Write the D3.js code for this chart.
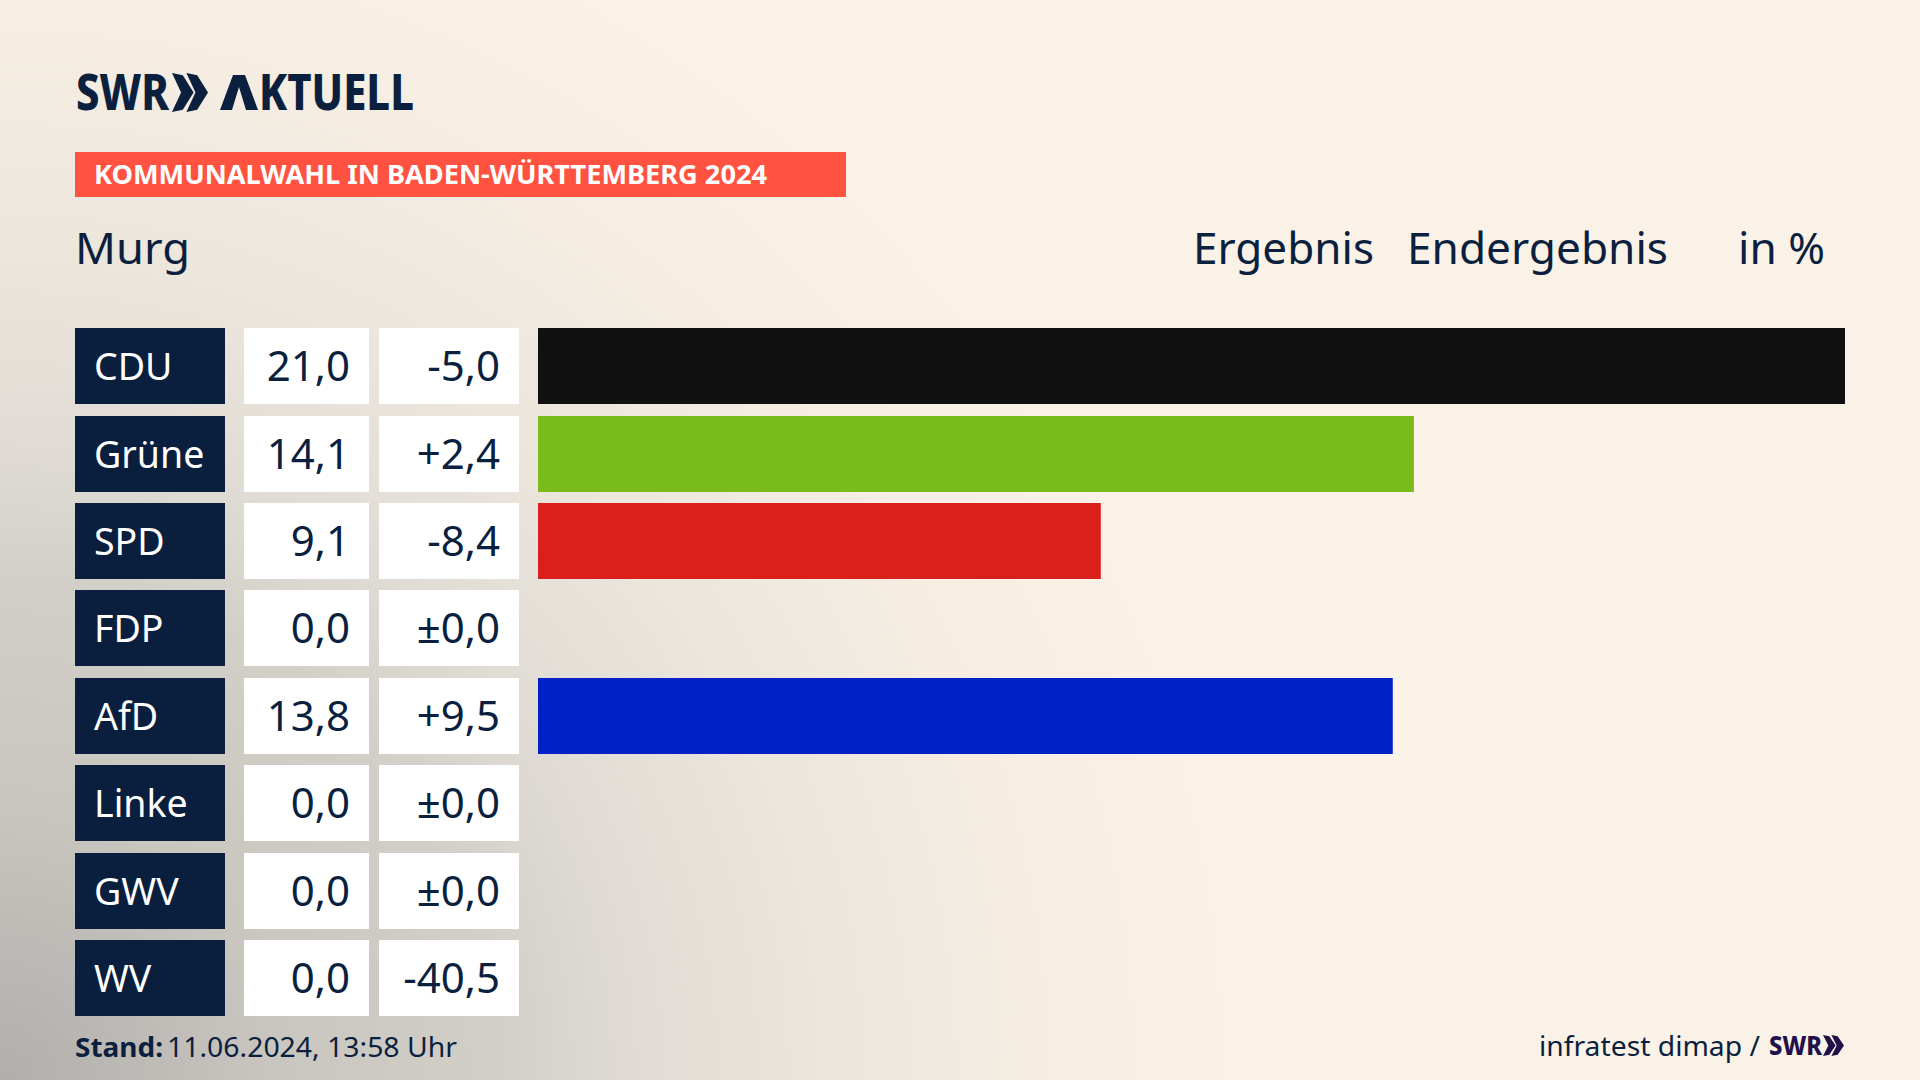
<!DOCTYPE html>
<html>
<head>
<meta charset="utf-8">
<script src="https://cdn.jsdelivr.net/npm/d3@7"></script>
<style>
  html, body { margin: 0; padding: 0; background: #fbf2e7; overflow: hidden; }
  svg { display: block; }
  text { font-family: "Noto Sans", sans-serif; fill: #0b1f3f; }
</style>
</head>
<body>
<svg width="1920" height="1080"></svg>
<script>
const parties = ["CDU", "Grüne", "SPD", "FDP", "AfD", "Linke", "GWV", "WV"]
// second decimal, the labels show one decimal
const results = [21.04, 14.1, 9.06, 0.0, 13.76, 0.0, 0.0, 0.0]
const changes = [-5.0, 2.4, -8.4, 0.0, 9.5, 0.0, 0.0, -40.5]
const barColors = ["#111111", "#79bb1a", "#d9201c", "#f0e0d0", "#0020c8", "#c0237f", "#888888", "#888888"]

const svg = d3.select("svg")
const navy = "#0b1f3f"

const locale = d3.formatLocale({ decimal: ",", thousands: ".", grouping: [3], currency: ["", ""], minus: "-" })
const fmt = locale.format(".1f")
const fmtChange = v => v === 0 ? "±0,0" : (v > 0 ? "+" : "") + fmt(v)

// background: cream with grey corner bottom left
const defs = svg.append("defs")
const grad = defs.append("radialGradient")
  .attr("id", "corner")
  .attr("gradientUnits", "userSpaceOnUse")
  .attr("cx", 0).attr("cy", 1080).attr("r", 1250)
grad.selectAll("stop")
  .data([[0, "#b0afad"], [0.22, "#c9c5bf"], [0.4, "#d2cfc9"], [0.5, "#dfdbd4"], [0.65, "#ebe5dc"], [0.84, "#f6eee3"], [1, "#fbf2e7"]])
  .join("stop")
    .attr("offset", d => d[0])
    .attr("stop-color", d => d[1])

svg.append("rect").attr("width", 1920).attr("height", 1080).attr("fill", "url(#corner)")

// chevrons of the SWR logo
function chevrons(g, x, y, w, h, fill) {
  const cw = w * 0.6
  ;[0, w - cw].forEach(dx => {
    g.append("polygon")
      .attr("fill", fill)
      .attr("points", [
        [x + dx, y], [x + dx + cw * 0.5, y + h * 0.06], [x + dx + cw, y + h / 2],
        [x + dx + cw * 0.5, y + h * 0.94], [x + dx, y + h], [x + dx + cw * 0.42, y + h / 2]
      ].join(" "))
  })
}

// logo
const logo = svg.append("g")
logo.append("text")
  .attr("x", 76).attr("y", 110)
  .attr("font-size", 49).attr("font-weight", 800)
  .attr("textLength", 93).attr("lengthAdjust", "spacingAndGlyphs")
  .text("SWR")
chevrons(logo, 172, 73, 36, 39, navy)
// the A of the logo has no crossbar: the letter stays as text, its shape is drawn
const aktuell = logo.append("text")
  .attr("y", 110)
  .attr("font-size", 49).attr("font-weight", 800)
aktuell.append("tspan")
  .attr("x", 220)
  .style("fill", "none")
  .text("A")
aktuell.append("tspan")
  .attr("x", 259)
  .attr("textLength", 155).attr("lengthAdjust", "spacingAndGlyphs")
  .text("KTUELL")
logo.append("polygon")
  .attr("fill", navy)
  .attr("points", "220,110 233,75 245,75 258,110 246,110 239,87 232,110")

// title band
svg.append("rect")
  .attr("x", 75).attr("y", 152).attr("width", 771).attr("height", 45)
  .attr("fill", "#ff5240")
svg.append("text")
  .attr("x", 94).attr("y", 184)
  .attr("font-size", 27).attr("font-weight", 700)
  .attr("textLength", 673).attr("lengthAdjust", "spacingAndGlyphs")
  .style("fill", "#fff")
  .text("KOMMUNALWAHL IN BADEN-WÜRTTEMBERG 2024")

// headings
const headings = [["Murg", 75, 115], ["Ergebnis", 1193, 181], ["Endergebnis", 1407, 261], ["in %", 1738, 87]]
svg.selectAll("text.head")
  .data(headings)
  .join("text")
    .attr("class", "head")
    .attr("x", d => d[1]).attr("y", 264)
    .attr("font-size", 44)
    .attr("textLength", d => d[2]).attr("lengthAdjust", "spacingAndGlyphs")
    .text(d => d[0])

// scales
const x = d3.scaleLinear().domain([0, 21.04]).range([538, 1845])
const y = d3.scaleBand().domain(parties).range([328, 1016]).paddingInner(0.1307)

const rows = svg.append("g").selectAll("g")
  .data(parties.map((p, i) => ({ party: p, result: results[i], change: changes[i], color: barColors[i] })))
  .join("g")
    .attr("transform", d => `translate(0,${Math.round(y(d.party) + 0.1)})`)

rows.append("rect")
  .attr("x", 75).attr("width", 150).attr("height", 76)
  .attr("fill", "#0a1e3e")
rows.append("rect")
  .attr("x", 244).attr("width", 125).attr("height", 76)
  .attr("fill", "#fff")
rows.append("rect")
  .attr("x", 379).attr("width", 140).attr("height", 76)
  .attr("fill", "#fff")

rows.append("rect")
  .attr("x", x(0))
  .attr("width", d => x(d.result) - x(0))
  .attr("height", 76)
  .attr("fill", d => d.color)

rows.append("text")
  .attr("x", 94).attr("y", 52)
  .attr("font-size", 37.5)
  .style("fill", "#fff")
  .text(d => d.party)
rows.append("text")
  .attr("x", 350).attr("y", 53)
  .attr("text-anchor", "end").attr("font-size", 42)
  .text(d => fmt(d.result))
rows.append("text")
  .attr("x", 500).attr("y", 53)
  .attr("text-anchor", "end").attr("font-size", 42)
  .text(d => fmtChange(d.change))

// footer
svg.append("text")
  .attr("x", 75).attr("y", 1057)
  .attr("font-size", 27).attr("font-weight", 700)
  .attr("textLength", 88).attr("lengthAdjust", "spacingAndGlyphs")
  .text("Stand:")
svg.append("text")
  .attr("x", 167).attr("y", 1057)
  .attr("font-size", 27)
  .attr("textLength", 290).attr("lengthAdjust", "spacingAndGlyphs")
  .text("11.06.2024, 13:58 Uhr")
svg.append("text")
  .attr("x", 1539).attr("y", 1056)
  .attr("font-size", 27)
  .attr("textLength", 221).attr("lengthAdjust", "spacingAndGlyphs")
  .text("infratest dimap /")
const smallLogo = svg.append("g")
smallLogo.append("text")
  .attr("x", 1769).attr("y", 1055)
  .attr("font-size", 27).attr("font-weight", 800)
  .attr("textLength", 53).attr("lengthAdjust", "spacingAndGlyphs")
  .style("fill", "#21104a")
  .text("SWR")
chevrons(smallLogo, 1823, 1035, 21, 21, "#21104a")
</script>
</body>
</html>
